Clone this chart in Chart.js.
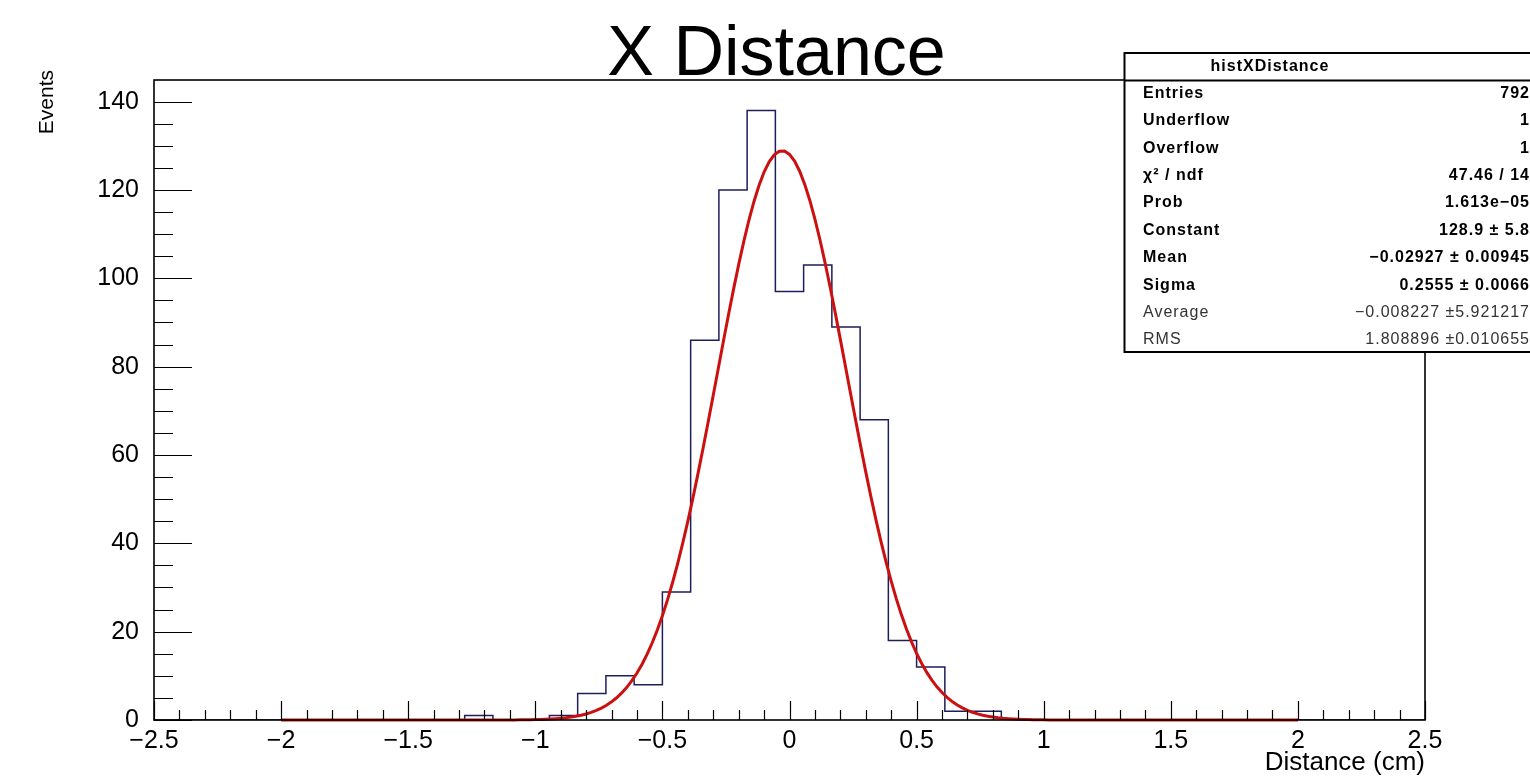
<!DOCTYPE html>
<html>
<head>
<meta charset="utf-8">
<title>X Distance</title>
<script src="https://cdn.jsdelivr.net/npm/chart.js@4.4.1/dist/chart.umd.min.js"></script>
<style>
  html, body { margin: 0; padding: 0; background: #ffffff; }
  #wrap { width: 1530px; height: 778px; position: relative; overflow: hidden; }
</style>
</head>
<body>
<div id="wrap"><canvas id="c" width="1530" height="778"></canvas></div>
<script>
// Histogram binning: 45 bins over [-2.5, 2.5]
const binLow = -2.5;
const binHigh = 2.5;
const binCount = 45;
// Bin contents (events per bin), left to right
const binContents = [
  0, 0, 0, 0, 0, 0, 0, 0, 0, 0,
  0, 1, 0, 0, 1, 6, 10, 8, 29, 86,
  120, 138, 97, 103, 89, 68, 18, 12, 2, 2,
  0, 0, 0, 0, 0, 0, 0, 0, 0, 0,
  0, 0, 0, 0, 0
];

// Gaussian fit parameters
const fitConstant = 128.9;
const fitMean = -0.02927;
const fitSigma = 0.2555;
const fitRange = [-2, 2];
const fitSamples = 200;

// Axis ticks and labels
const xTickValues = [-2.5, -2, -1.5, -1, -0.5, 0, 0.5, 1, 1.5, 2, 2.5];
const xTickLabels = ['\u22122.5', '\u22122', '\u22121.5', '\u22121', '\u22120.5', '0', '0.5', '1', '1.5', '2', '2.5'];
const yTickValues = [0, 20, 40, 60, 80, 100, 120, 140];
const yTickLabels = ['0', '20', '40', '60', '80', '100', '120', '140'];
const yMax = 144.9;

// Statistics box
const statsTitle = 'histXDistance';
const statNames = ['Entries', 'Underflow', 'Overflow', '\u03C7\u00B2 / ndf', 'Prob', 'Constant', 'Mean', 'Sigma', 'Average', 'RMS'];
const statValues = ['792', '1', '1', '47.46 / 14', '1.613e\u221205', '128.9 \u00B1 5.8', '\u22120.02927 \u00B1 0.00945', '0.2555 \u00B1 0.0066', '\u22120.008227 \u00B15.921217', '1.808896 \u00B10.010655'];
const statBold = [true, true, true, true, true, true, true, true, false, false];

const titleText = 'X Distance';
const xTitle = 'Distance (cm)';
const yTitle = 'Events';

// ---- build datasets ----
// Outline of the histogram: each bin contributes its left and right edge at its content
const binWidth = (binHigh - binLow) / binCount;
const histPoints = [];
binContents.forEach((v, k) => {
  const lo = binLow + k * binWidth;
  histPoints.push({ x: lo, y: v });
  histPoints.push({ x: lo + binWidth, y: v });
});

const fitPoints = [];
for (let i = 0; i <= fitSamples; i++) {
  const xv = fitRange[0] + (fitRange[1] - fitRange[0]) * i / fitSamples;
  const z = (xv - fitMean) / fitSigma;
  fitPoints.push({ x: xv, y: fitConstant * Math.exp(-0.5 * z * z) });
}

const FONT = '"Liberation Sans", Arial, Helvetica, sans-serif';

// Frame, inward tick marks, title, axis titles and stats box
const decorations = {
  id: 'decorations',
  afterDatasetsDraw(chart) {
    const { ctx, chartArea: a, scales: { x, y } } = chart;
    ctx.save();
    ctx.strokeStyle = '#000';
    ctx.lineWidth = 1.2;
    ctx.beginPath();
    // x ticks: major every 0.5, minor every 0.1
    for (let i = 0; i <= 50; i++) {
      const v = -2.5 + i * 0.1;
      const px = Math.round(x.getPixelForValue(v)) + 0.5;
      const len = (i % 5 === 0) ? 19 : 10;
      ctx.moveTo(px, a.bottom);
      ctx.lineTo(px, a.bottom - len);
    }
    // y ticks: major every 20, minor every 5
    for (let i = 0; i * 5 <= yMax; i++) {
      const v = i * 5;
      const py = Math.round(y.getPixelForValue(v)) + 0.5;
      const len = (i % 4 === 0) ? 38 : 19;
      ctx.moveTo(a.left, py);
      ctx.lineTo(a.left + len, py);
    }
    ctx.stroke();
    ctx.lineWidth = 1.6;
    ctx.strokeRect(a.left, a.top, a.right - a.left, a.bottom - a.top);
    ctx.restore();
  },
  afterDraw(chart) {
    const { ctx, chartArea: a } = chart;
    ctx.save();
    ctx.fillStyle = '#000';

    // title
    ctx.font = '70px ' + FONT;
    ctx.textAlign = 'center';
    ctx.textBaseline = 'alphabetic';
    ctx.fillText(titleText, 776.5, 75);

    // x axis title
    ctx.font = '26px ' + FONT;
    ctx.textAlign = 'right';
    ctx.fillText(xTitle, a.right, 770);

    // y axis title
    ctx.save();
    ctx.translate(53, 70);
    ctx.rotate(-Math.PI / 2);
    ctx.font = '21px ' + FONT;
    ctx.textAlign = 'right';
    ctx.textBaseline = 'alphabetic';
    ctx.fillText(yTitle, 0, 0);
    ctx.restore();

    // stats box
    const bx = 1124.5, by = 53, bw = 420, bh = 299;
    ctx.fillStyle = '#fff';
    ctx.fillRect(bx, by, bw, bh);
    ctx.strokeStyle = '#000';
    ctx.lineWidth = 2;
    ctx.strokeRect(bx, by, bw, bh);
    ctx.beginPath();
    ctx.moveTo(bx, 80.5);
    ctx.lineTo(bx + bw, 80.5);
    ctx.stroke();

    ctx.fillStyle = '#000';
    ctx.textBaseline = 'middle';
    if ('letterSpacing' in ctx) ctx.letterSpacing = '1px';
    ctx.font = 'bold 16px ' + FONT;
    ctx.textAlign = 'center';
    ctx.fillText(statsTitle, 1270, 67);

    statNames.forEach((name, i) => {
      const cy = 93.3 + i * 27.4;
      ctx.font = (statBold[i] ? 'bold ' : '') + '16px ' + FONT;
      ctx.fillStyle = statBold[i] ? '#000' : '#333';
      ctx.textAlign = 'left';
      ctx.fillText(name, 1143, cy);
      ctx.textAlign = 'right';
      ctx.fillText(statValues[i], 1530, cy);
    });
    ctx.restore();
  }
};

new Chart(document.getElementById('c'), {
  type: 'line',
  data: {
    datasets: [
      {
        label: 'fit',
        data: fitPoints,
        borderColor: '#cc1010',
        borderWidth: 3,
        pointRadius: 0,
        fill: false,
        tension: 0,
        clip: false,
        order: 0
      },
      {
        label: 'histXDistance',
        data: histPoints,
        borderColor: '#1e1e5a',
        borderWidth: 1.5,
        pointRadius: 0,
        fill: false,
        tension: 0,
        order: 1
      }
    ]
  },
  options: {
    responsive: false,
    animation: false,
    devicePixelRatio: 1,
    layout: { padding: { top: 80, right: 105, bottom: 0, left: 0 } },
    plugins: { legend: { display: false }, tooltip: { enabled: false }, title: { display: false } },
    scales: {
      x: {
        type: 'linear',
        min: binLow,
        max: binHigh,
        grid: { display: false, drawTicks: false },
        border: { display: false },
        afterBuildTicks(scale) { scale.ticks = xTickValues.map(v => ({ value: v })); },
        afterFit(scale) { scale.height = 58; },
        ticks: {
          autoSkip: false,
          maxRotation: 0,
          padding: 6,
          color: '#000',
          font: { family: FONT, size: 25 },
          callback(value) {
            const i = xTickValues.findIndex(t => Math.abs(t - value) < 1e-6);
            return i >= 0 ? xTickLabels[i] : '';
          }
        }
      },
      y: {
        type: 'linear',
        min: 0,
        max: yMax,
        grid: { display: false, drawTicks: false },
        border: { display: false },
        afterBuildTicks(scale) { scale.ticks = yTickValues.map(v => ({ value: v })); },
        afterFit(scale) { scale.width = 154; },
        ticks: {
          autoSkip: false,
          padding: 15,
          color: '#000',
          font: { family: FONT, size: 25 },
          callback(value) {
            const i = yTickValues.indexOf(value);
            return i >= 0 ? yTickLabels[i] : '';
          }
        }
      }
    }
  },
  plugins: [decorations]
});
</script>
</body>
</html>
